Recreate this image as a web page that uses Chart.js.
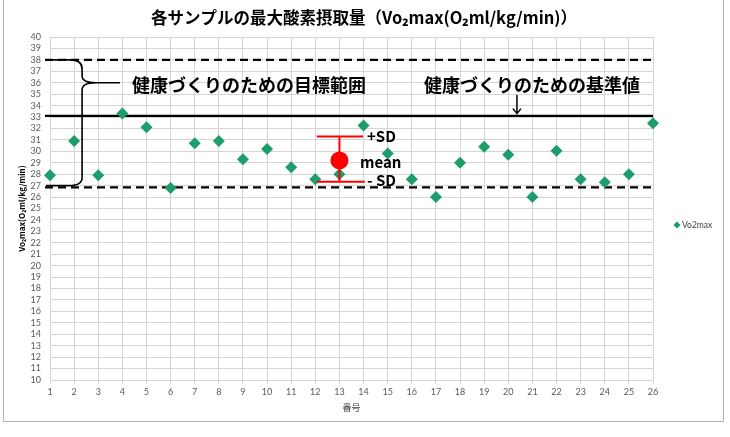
<!DOCTYPE html>
<html><head><meta charset="utf-8">
<script src="https://cdn.jsdelivr.net/npm/chart.js@4.4.0/dist/chart.umd.min.js"></script>
<style>html,body{margin:0;padding:0;background:#fff;}#wrap{width:730px;height:437px;position:relative;}</style>
</head><body>
<div id="wrap"><canvas id="c" width="730" height="437"></canvas></div>
<script>
// ---- data ----
const sampleIds = [1,2,3,4,5,6,7,8,9,10,11,12,13,14,15,16,17,18,19,20,21,22,23,24,25,26];
const vo2maxValues = [27.9,30.9,27.9,33.3,32.1,26.8,30.7,30.9,29.3,30.2,28.6,27.55,28.0,32.25,29.8,27.55,26.0,29.0,30.4,29.7,26.0,30.05,27.55,27.3,28.0,32.45];
const yRange = [10, 40];
const xRange = [1, 26];
const targetRangeLines = [38, 26.85];   // dashed
const referenceLine = [33.1];           // solid
const meanStats = [13, 29.2, 31.3, 27.35]; // x, mean, +SD, -SD
const titleText = '各サンプルの最大酸素摂取量（Vo₂max(O₂ml/kg/min)）';
const yTitle = 'Vo₂max(O₂ml/kg/min)';
const xTitle = '番号';
const seriesName = 'Vo2max';
const noteTexts = ['健康づくりのための目標範囲', '健康づくりのための基準値', '+SD', 'mean', '- SD'];

const green = '#1c9d6b';
const JP = '"Noto Sans CJK JP", "Noto Sans", sans-serif';
const LAT = 'Lato, "Open Sans", sans-serif';

const overlay = {
  id: 'overlay',
  beforeDraw(chart) {
    const ctx = chart.ctx;
    ctx.save();
    ctx.strokeStyle = '#b3b3b3';
    ctx.lineWidth = 1;
    ctx.strokeRect(3.5, -1.5, 720, 423);
    ctx.fillStyle = '#000';
    ctx.font = 'bold 16.5px ' + JP;
    ctx.textAlign = 'center';
    ctx.textBaseline = 'middle';
    ctx.fillText(titleText, 364, 18);
    // legend
    ctx.fillStyle = green;
    ctx.beginPath();
    ctx.moveTo(677, 221.5); ctx.lineTo(680.5, 225); ctx.lineTo(677, 228.5); ctx.lineTo(673.5, 225); ctx.closePath();
    ctx.fill();
    ctx.fillStyle = '#404040';
    ctx.font = '8.5px ' + LAT;
    ctx.textAlign = 'left';
    ctx.fillText(seriesName, 682, 225.5);
    ctx.restore();
  },
  beforeDatasetsDraw(chart) {
    const ctx = chart.ctx, xs = chart.scales.x, ys = chart.scales.y;
    const x0 = 45, x1 = xs.getPixelForValue(xRange[1]);
    ctx.save();
    ctx.strokeStyle = '#000';
    ctx.lineWidth = 2.2;
    ctx.setLineDash([8, 5]);
    targetRangeLines.forEach(v => {
      const y = ys.getPixelForValue(v);
      ctx.beginPath(); ctx.moveTo(x0, y); ctx.lineTo(x1, y); ctx.stroke();
    });
    ctx.setLineDash([]);
    referenceLine.forEach(v => {
      const y = ys.getPixelForValue(v);
      ctx.beginPath(); ctx.moveTo(x0, y); ctx.lineTo(x1, y); ctx.stroke();
    });
    // brace
    const yt = ys.getPixelForValue(38), yb = ys.getPixelForValue(27), ym = ys.getPixelForValue(36);
    const bx = xs.getPixelForValue(2.33);
    ctx.lineWidth = 1.6;
    ctx.beginPath();
    ctx.moveTo(46, yt);
    ctx.lineTo(bx - 12, yt);
    ctx.quadraticCurveTo(bx, yt, bx, yt + 9);
    ctx.lineTo(bx, ym - 7);
    ctx.quadraticCurveTo(bx, ym, bx + 14, ym);
    ctx.lineTo(120, ym);
    ctx.moveTo(bx + 14, ym);
    ctx.quadraticCurveTo(bx, ym, bx, ym + 7);
    ctx.lineTo(bx, yb - 8);
    ctx.quadraticCurveTo(bx, yb, bx - 14, yb);
    ctx.lineTo(46, yb);
    ctx.stroke();
    // arrow
    const ax = xs.getPixelForValue(20.36);
    const ay = ys.getPixelForValue(33.3);
    ctx.lineWidth = 1.5;
    ctx.beginPath();
    ctx.moveTo(ax, 95); ctx.lineTo(ax, ay);
    ctx.moveTo(ax - 4, ay - 5); ctx.lineTo(ax, ay); ctx.lineTo(ax + 4, ay - 5);
    ctx.stroke();
    // texts
    ctx.fillStyle = '#000';
    ctx.font = 'bold 18px ' + JP;
    ctx.textBaseline = 'middle';
    ctx.textAlign = 'left';
    ctx.fillText(noteTexts[0], 132, 85);
    ctx.fillText(noteTexts[1], 424, 85);
    ctx.restore();
  },
  afterDatasetsDraw(chart) {
    const ctx = chart.ctx, xs = chart.scales.x, ys = chart.scales.y;
    const [mx, mv, up, lo] = meanStats;
    const px = xs.getPixelForValue(mx);
    const yu = ys.getPixelForValue(up), yl = ys.getPixelForValue(lo), ym = ys.getPixelForValue(mv);
    ctx.save();
    ctx.strokeStyle = '#ff0000';
    ctx.lineWidth = 2;
    ctx.beginPath();
    ctx.moveTo(px, yu); ctx.lineTo(px, yl);
    ctx.moveTo(xs.getPixelForValue(12.06), yu); ctx.lineTo(xs.getPixelForValue(13.98), yu);
    ctx.moveTo(xs.getPixelForValue(12.06), yl); ctx.lineTo(xs.getPixelForValue(14.05), yl);
    ctx.stroke();
    ctx.fillStyle = '#ff0000';
    ctx.beginPath(); ctx.arc(px, ym, 9, 0, Math.PI * 2); ctx.fill();
    ctx.fillStyle = '#000';
    ctx.font = 'bold 15px ' + JP;
    ctx.textBaseline = 'middle';
    ctx.textAlign = 'left';
    ctx.fillText(noteTexts[2], 367, 136);
    ctx.fillText(noteTexts[3], 360, 162);
    ctx.fillText(noteTexts[4], 367, 180);
    ctx.restore();
  }
};

new Chart(document.getElementById('c'), {
  type: 'scatter',
  data: {
    datasets: [{
      label: seriesName,
      data: sampleIds.map((id, i) => ({ x: id, y: vo2maxValues[i] })),
      pointStyle: 'rectRot',
      pointRadius: 6,
      pointHoverRadius: 6,
      backgroundColor: green,
      borderColor: green,
      borderWidth: 0,
      clip: false
    }]
  },
  options: {
    responsive: false,
    animation: false,
    events: [],
    layout: { padding: { left: 0, right: 77, top: 37, bottom: 0 } },
    plugins: { legend: { display: false }, title: { display: false }, tooltip: { enabled: false } },
    scales: {
      x: {
        type: 'linear', min: xRange[0], max: xRange[1],
        afterFit(s) { s.height = 57; },
        ticks: { stepSize: 1, color: '#595959', font: { size: 9, family: LAT }, padding: 3, maxRotation: 0, autoSkip: false },
        grid: { color: '#d4d4d4', lineWidth: 1, tickLength: 4, drawTicks: true },
        border: { color: '#d4d4d4' },
        title: { display: true, text: xTitle, color: '#404040', font: { size: 9, family: JP }, padding: { top: 0, bottom: 24 } }
      },
      y: {
        type: 'linear', min: yRange[0], max: yRange[1],
        afterFit(s) { s.width = 50; },
        ticks: { stepSize: 1, color: '#595959', font: { size: 9, family: LAT }, padding: 9, autoSkip: false },
        grid: { color: '#d4d4d4', lineWidth: 1, drawTicks: false },
        border: { color: '#d4d4d4' },
        title: { display: true, text: yTitle, color: '#000', font: { size: 8, weight: 'bold', family: JP }, padding: { top: 17, bottom: 0 } }
      }
    }
  },
  plugins: [overlay]
});
</script>
</body></html>
